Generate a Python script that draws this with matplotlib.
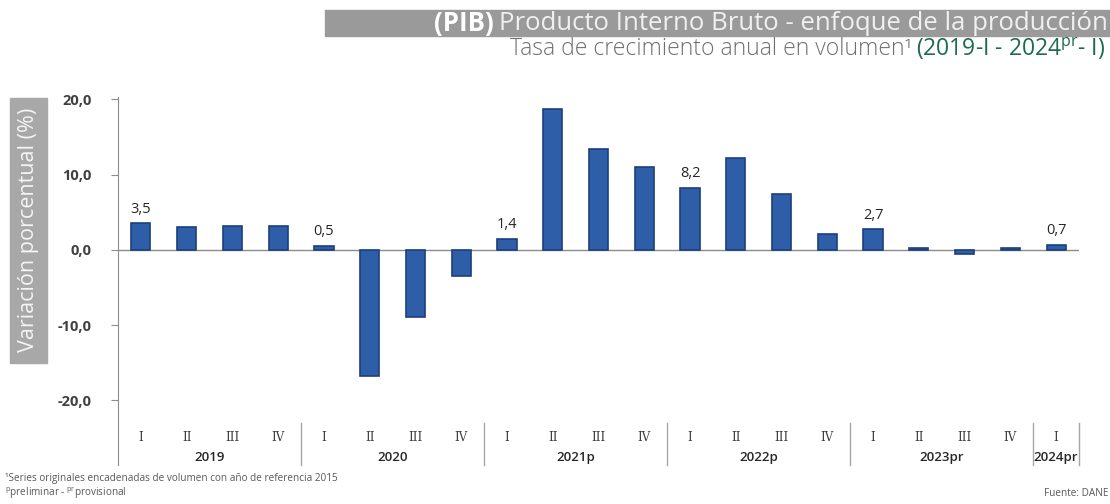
import numpy as np
import matplotlib
matplotlib.use('Agg')
from matplotlib import pyplot as plt
from matplotlib.patches import Rectangle

# data
years = ['2019', '2020', '2021p', '2022p', '2023pr', '2024pr']
quarters_per_year = [4, 4, 4, 4, 4, 1]
quarter_names = ['I', 'II', 'III', 'IV']
growth = [3.5, 3.0, 3.2, 3.2,
          0.5, -16.8, -8.9, -3.5,
          1.4, 18.7, 13.4, 11.0,
          8.2, 12.2, 7.4, 2.1,
          2.7, 0.3, -0.6, 0.3,
          0.7]
labelled = [0, 4, 8, 12, 16, 20]

plt.rcParams['font.family'] = ['Open Sans', 'DejaVu Sans']
plt.rcParams['mathtext.default'] = 'regular'

W, H = 1110, 504
fig = plt.figure(figsize=(W / 100, H / 100), dpi=100)
ax = fig.add_axes([118 / W, 1 - 465 / H, (1079 - 118) / W, (465 - 97) / H])

x = np.arange(len(growth))
ax.bar(x, growth, width=0.42, color='#2f5ea8', edgecolor='#1c3f7d', linewidth=1.2, zorder=3)
ax.axhline(0, color='#8c8c8c', lw=1, zorder=2)

ax.set_xlim(-0.5, len(growth) - 0.5)
ax.set_ylim(-28.6, 20.3)
ax.set_yticks([20, 10, 0, -10, -20])
ax.set_yticklabels([f'{v:.1f}'.replace('.', ',') for v in [20, 10, 0, -10, -20]],
                   fontsize=10.5, fontweight='bold', color='#404040')
ax.tick_params(axis='y', length=5, color='#8c8c8c', pad=14)
ax.set_xticks([])
for s in ['top', 'right', 'bottom']:
    ax.spines[s].set_visible(False)
ax.spines['left'].set_color('#8c8c8c')

for i in labelled:
    ax.text(i, growth[i] + 0.9, f'{growth[i]:.1f}'.replace('.', ','),
            ha='center', va='bottom', fontsize=10.5, color='#262626')

# category axis: quarters, years and separators
pos = 0
for yr, n in zip(years, quarters_per_year):
    for q in range(n):
        ax.text(pos + q, -24.9, quarter_names[q], ha='center', va='center',
                fontsize=8.5, color='#404040', family='DejaVu Serif')
    ax.text(pos + (n - 1) / 2, -27.6, yr, ha='center', va='center',
            fontsize=9.5, color='#262626', fontweight='semibold')
    pos += n
    ax.plot([pos - 0.5, pos - 0.5], [-23.0, -28.6], color='#a6a6a6', lw=1, clip_on=False)

# y axis label box
fig.patches.append(Rectangle((10 / W, 1 - 363 / H), 37 / W, 265 / H,
                             transform=fig.transFigure, color='#a8a8a8', zorder=0))
fig.text(28.5 / W, 1 - 230 / H, 'Variación porcentual (%)', rotation=90,
         ha='center', va='center', fontsize=15.5, color='#f4f4f4')

# title banner
fig.patches.append(Rectangle((325 / W, 1 - 36 / H), 785 / W, 26 / H,
                             transform=fig.transFigure, color='#9a9a9a', zorder=0))
t1 = fig.text(1108 / W, 1 - 23 / H, 'Producto Interno Bruto - enfoque de la producción',
              ha='right', va='center', fontsize=18.5, color='#f0f0f0')
fig.canvas.draw()
bb = t1.get_window_extent()
fig.text((bb.x0 - 5) / W, 1 - 23 / H, '(PIB)', ha='right', va='center',
         fontsize=18.5, fontweight='bold', color='white')

t2 = fig.text(1105 / W, 1 - 49 / H, r'(2019-I - 2024$^{pr}$- I)', ha='right', va='center',
              fontsize=16.5, color='#1d6b4f')
fig.canvas.draw()
bb = t2.get_window_extent()
fig.text((bb.x0 - 4) / W, 1 - 49 / H, 'Tasa de crecimiento anual en volumen¹',
         ha='right', va='center', fontsize=16.5, color='#6f6f6f', fontweight='light')

# footnotes
fig.text(5 / W, 1 - 478 / H, '¹Series originales encadenadas de volumen con año de referencia 2015',
         fontsize=7.2, color='#595959', va='center')
fig.text(5 / W, 1 - 493 / H, r'$^{p}$preliminar - $^{pr}$provisional',
         fontsize=7.2, color='#595959', va='center')
fig.text(1108 / W, 1 - 493 / H, 'Fuente: DANE', fontsize=7.2, color='#595959',
         ha='right', va='center')

fig.savefig('out.png', dpi=100)
